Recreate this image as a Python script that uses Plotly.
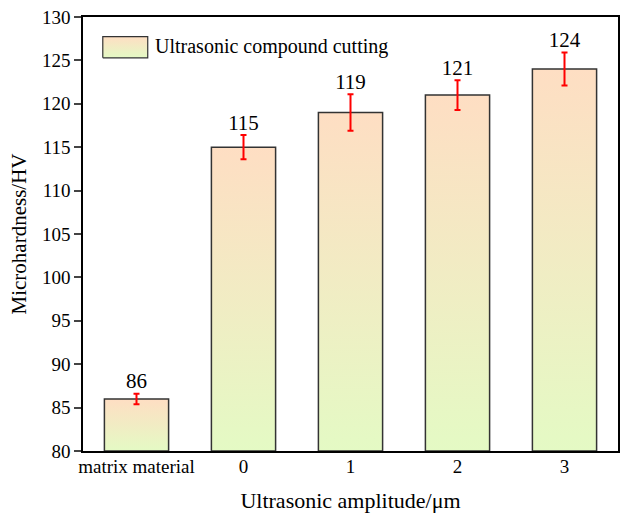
import plotly.graph_objects as go

categories = ["matrix material", "0", "1", "2", "3"]
hardness = [86, 115, 119, 121, 124]
errors = [0.6, 1.4, 2.1, 1.7, 1.9]
y_ticks = [80, 85, 90, 95, 100, 105, 110, 115, 120, 125, 130]
legend_label = "Ultrasonic compound cutting"

FONT = "Liberation Serif, Times New Roman, serif"
BASE = 80
HALF_W = 0.3
grad = [[0, "rgb(228,250,196)"], [1, "rgb(254,222,195)"]]

fig = go.Figure()
for i, (cat, v) in enumerate(zip(categories, hardness)):
    fig.add_trace(go.Scatter(
        x=[i - HALF_W, i - HALF_W, i + HALF_W, i + HALF_W, i - HALF_W],
        y=[BASE, v, v, BASE, BASE],
        mode="lines", fill="toself",
        fillgradient=dict(type="vertical", colorscale=grad),
        line=dict(color="#333333", width=1.5),
        showlegend=False, hoverinfo="skip",
    ))

fig.add_trace(go.Scatter(
    x=list(range(len(categories))), y=hardness, mode="markers",
    marker=dict(size=1, color="rgba(0,0,0,0)"),
    error_y=dict(type="data", array=errors, color="red", thickness=2, width=3),
    showlegend=False, hoverinfo="skip",
))
fig.add_trace(go.Scatter(
    x=list(range(len(categories))), y=[h + e for h, e in zip(hardness, errors)],
    mode="text", text=[str(h) for h in hardness], textposition="top center",
    textfont=dict(family=FONT, size=21, color="black"),
    showlegend=False, hoverinfo="skip",
))

# legend swatch (gradient box) on an auxiliary paper-like axis
fig.add_trace(go.Scatter(
    x=[0.037, 0.037, 0.121, 0.121, 0.037], y=[0.906, 0.955, 0.955, 0.906, 0.906],
    xaxis="x2", yaxis="y2", mode="lines", fill="toself",
    fillgradient=dict(type="vertical", colorscale=grad),
    line=dict(color="#333333", width=1.2),
    showlegend=False, hoverinfo="skip",
))
fig.add_annotation(
    x=0.130, y=0.932, xref="x2", yref="y2", text=legend_label, showarrow=False,
    xanchor="left", yanchor="middle", font=dict(family=FONT, size=20, color="black"),
)

fig.update_layout(
    width=622, height=519,
    margin=dict(l=83, r=2, t=17, b=68),
    paper_bgcolor="white", plot_bgcolor="white",
    font=dict(family=FONT, size=19, color="black"),
    showlegend=False,
    xaxis2=dict(range=[0, 1], domain=[0, 1], overlaying="x", visible=False, fixedrange=True),
    yaxis2=dict(range=[0, 1], domain=[0, 1], overlaying="y", visible=False, fixedrange=True),
)
fig.update_layout(xaxis=dict(
    range=[-0.5, 4.5], tickvals=list(range(len(categories))), ticktext=categories,
    showline=True, linecolor="black", linewidth=1.5, mirror=True,
    showgrid=False, zeroline=False, ticks="",
    tickfont=dict(family=FONT, size=19), ticklabelstandoff=-3,
    title=dict(text="Ultrasonic amplitude/\u03bcm", font=dict(family=FONT, size=22), standoff=17),
))
fig.update_layout(yaxis=dict(
    range=[80, 130], tickvals=y_ticks,
    showline=True, linecolor="black", linewidth=1.5, mirror=True,
    showgrid=False, zeroline=False, ticks="outside", ticklen=7, tickwidth=1.5,
    tickfont=dict(family=FONT, size=19),
    title=dict(text="Microhardness/HV", font=dict(family=FONT, size=21), standoff=10),
))

fig.write_html("out.html")
